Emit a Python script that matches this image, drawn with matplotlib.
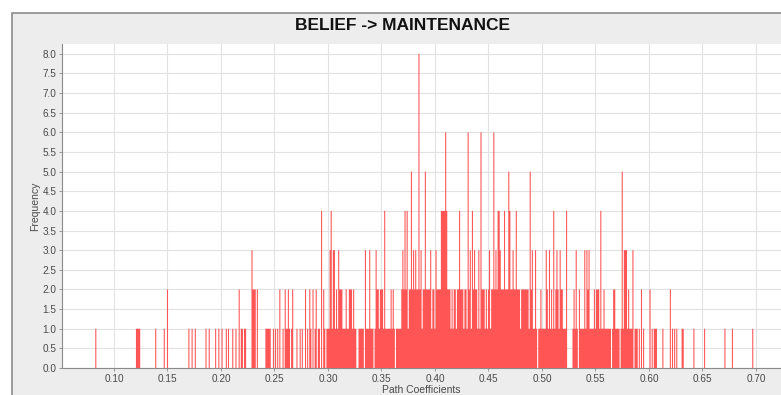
import numpy as np
import matplotlib
matplotlib.use("Agg")
import matplotlib.pyplot as plt
from matplotlib.patches import Rectangle

plt.rcParams['font.family'] = ['Liberation Sans', 'DejaVu Sans']

bin_width = 0.001

# sparse left tail of the bootstrap distribution
left_coef = [
    0.083, 0.121, 0.122, 0.123, 0.124, 0.139, 0.147, 0.150, 0.170, 0.173,
    0.176, 0.186, 0.189, 0.195, 0.198, 0.201, 0.205, 0.207, 0.211, 0.214,
    0.217, 0.219, 0.220, 0.222, 0.223, 0.229, 0.230, 0.231, 0.232, 0.234,
    0.242, 0.243, 0.244, 0.245, 0.246, 0.249, 0.251, 0.253, 0.255, 0.258,
    0.260, 0.261, 0.262, 0.263, 0.264, 0.266, 0.267, 0.271, 0.274, 0.276,
    0.279, 0.281, 0.283, 0.284, 0.286, 0.288, 0.289, 0.291, 0.292, 0.294,
    0.296, 0.297, 0.299,
]
left_freq = [
    1, 1, 1, 1, 1, 1, 1, 2, 1, 1,
    1, 1, 1, 1, 1, 1, 1, 1, 1, 1,
    2, 1, 1, 1, 1, 3, 2, 2, 2, 2,
    1, 1, 1, 1, 1, 1, 1, 1, 2, 1,
    2, 1, 1, 2, 1, 1, 2, 1, 1, 1,
    2, 1, 2, 1, 2, 1, 2, 1, 1, 4,
    2, 1, 1,
]

# dense middle: one count per 0.001 bin from 0.300 to 0.599
core_start = 0.300
core_freq = [
    1, 1, 3, 4, 1, 3, 3, 1, 2, 1,
    3, 2, 2, 2, 1, 1, 1, 2, 1, 1,
    2, 2, 2, 1, 2, 1, 1, 0, 0, 1,
    1, 1, 1, 1, 0, 3, 1, 1, 1, 3,
    1, 1, 1, 0, 1, 3, 2, 2, 1, 2,
    2, 2, 1, 4, 1, 1, 1, 1, 1, 2,
    1, 2, 1, 0, 1, 1, 1, 1, 1, 2,
    3, 2, 4, 2, 4, 1, 2, 2, 5, 2,
    3, 2, 3, 2, 2, 8, 2, 3, 1, 2,
    2, 5, 2, 2, 2, 2, 3, 1, 2, 2,
    1, 3, 2, 2, 2, 2, 4, 4, 4, 4,
    6, 4, 2, 2, 2, 1, 2, 1, 2, 2,
    1, 2, 2, 4, 2, 2, 2, 1, 2, 2,
    1, 6, 2, 3, 1, 4, 2, 3, 2, 2,
    1, 3, 1, 6, 2, 2, 2, 1, 2, 1,
    2, 3, 1, 2, 2, 6, 2, 3, 2, 4,
    4, 3, 2, 2, 2, 4, 2, 2, 2, 5,
    4, 2, 2, 3, 2, 2, 4, 2, 2, 2,
    1, 2, 2, 2, 2, 2, 2, 2, 1, 5,
    2, 3, 1, 1, 3, 1, 0, 1, 1, 2,
    1, 1, 1, 1, 3, 2, 1, 3, 1, 2,
    1, 4, 1, 2, 3, 2, 1, 3, 2, 2,
    1, 1, 1, 4, 0, 0, 0, 0, 0, 1,
    2, 1, 3, 1, 0, 2, 1, 1, 1, 1,
    3, 1, 3, 2, 3, 1, 1, 1, 1, 2,
    1, 2, 2, 2, 1, 4, 1, 1, 2, 1,
    1, 1, 1, 1, 1, 0, 1, 2, 2, 1,
    1, 1, 1, 0, 1, 5, 1, 3, 3, 3,
    1, 2, 1, 1, 1, 3, 0, 1, 1, 1,
    0, 1, 0, 2, 0, 1, 0, 0, 0, 0,
]

# sparse right tail
right_coef = [
    0.601, 0.603, 0.605, 0.606, 0.607, 0.613, 0.620, 0.622, 0.624, 0.626,
    0.631, 0.632, 0.642, 0.652, 0.671, 0.678, 0.697,
]
right_freq = [2, 1, 1, 1, 1, 1, 2, 1, 1, 1, 1, 1, 1, 1, 1, 1, 1]

x_ticks = np.arange(0.10, 0.701, 0.05)
y_ticks = np.arange(0.0, 8.01, 0.5)

# put every count onto one regular bin grid so the histogram is a single shape
grid_lo, grid_n = 0.050, 680
counts = np.zeros(grid_n)
core_coef = core_start + bin_width * np.arange(len(core_freq))
for c, f in zip(np.concatenate([left_coef, core_coef, right_coef]),
                np.concatenate([left_freq, core_freq, right_freq])):
    counts[int(round((c - grid_lo) / bin_width))] = f
edges = grid_lo - bin_width / 2 + bin_width * np.arange(grid_n + 1)

W, H = 781, 395
fig = plt.figure(figsize=(W / 100, H / 100), dpi=100, facecolor='white')

# grey chart panel behind the plot
panel = Rectangle((12 / W, -0.01), 1.0, 1.01 - 13 / H, transform=fig.transFigure,
                  facecolor='#ededed', edgecolor='#8c8c8c', linewidth=1.2)
panel.set_zorder(-10)
fig.patches.append(panel)

ax = fig.add_axes([62 / W, 1 - 368 / H, 1 - 62 / W, (368 - 44) / H])
ax.set_zorder(5)
ax.set_facecolor('white')
ax.stairs(counts, edges, fill=True, color='#ff5555', linewidth=0, zorder=3)

ax.set_xlim(0.0514, 0.7234)
ax.set_ylim(0, 8.25)
ax.set_xticks(x_ticks)
ax.set_xticklabels(['%.2f' % t for t in x_ticks])
ax.set_yticks(y_ticks)
ax.set_yticklabels(['%.1f' % t for t in y_ticks])
ax.tick_params(axis='both', labelsize=7.2, colors='#8a8a8a', labelcolor='#4a4a4a',
               length=2, width=0.6, pad=2)
ax.grid(True, color='#e2e2e2', linewidth=0.8, zorder=0)
ax.set_axisbelow(True)

for side in ['top', 'right']:
    ax.spines[side].set_visible(False)
for side in ['left', 'bottom']:
    ax.spines[side].set_color('#8a8a8a')
    ax.spines[side].set_linewidth(0.8)

ax.set_xlabel('Path Coefficients', fontsize=7.5, color='#4a4a4a', labelpad=1)
ax.set_ylabel('Frequency', fontsize=7.5, color='#4a4a4a', labelpad=2)

fig.text(402 / W, 1 - 25 / H, 'BELIEF -> MAINTENANCE', ha='center', va='center',
         fontsize=12.5, fontweight='bold', color='#111111', zorder=6)

fig.savefig('out.png', dpi=100, facecolor=fig.get_facecolor())
